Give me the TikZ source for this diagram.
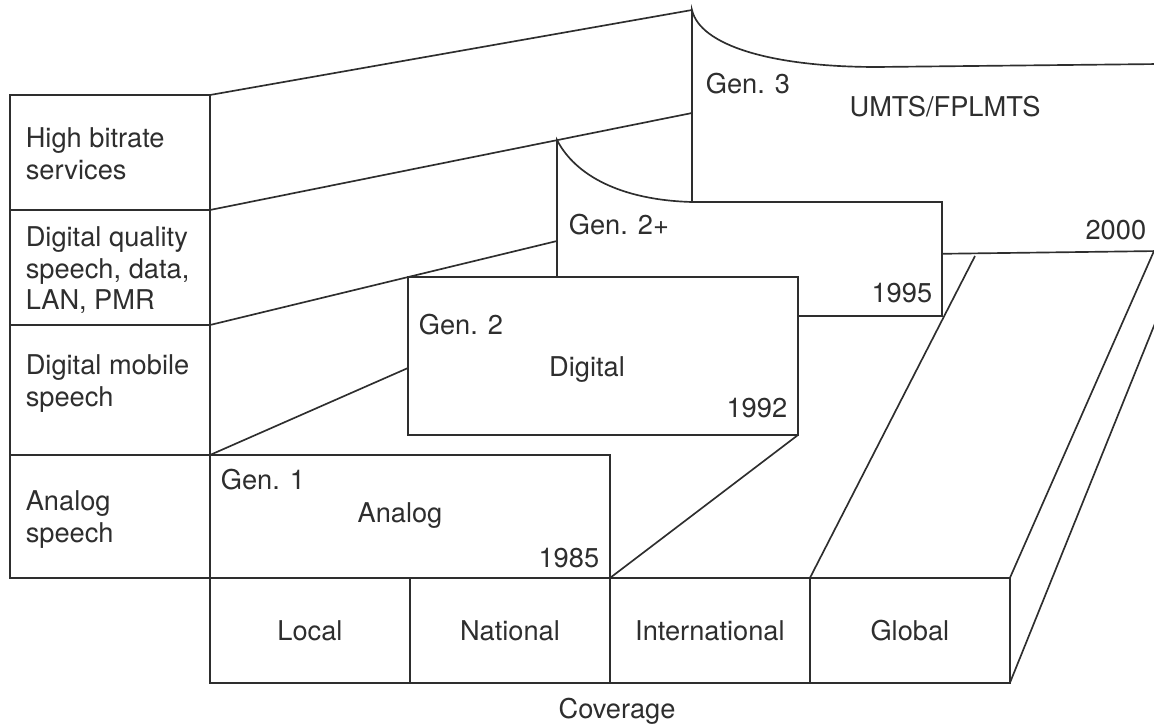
\documentclass[tikz,border=0pt]{standalone}
\usepackage{fontspec}
\setmainfont{TeX Gyre Heros}
\usetikzlibrary{positioning}

\begin{document}
\begin{tikzpicture}[x=0.02cm, y=-0.02cm, line width=0.95pt, color=black!82,
    every node/.style={font=\fontsize{15.5}{18}\selectfont},
    rowtext/.style={anchor=north west, inner sep=0pt, align=left},
    gentext/.style={anchor=north west, inner sep=0pt},
    yeartext/.style={anchor=base east, inner sep=0pt},
    systext/.style={anchor=base, inner sep=0pt},
    covbox/.style={draw, minimum width=4cm, minimum height=2.1cm, inner sep=0pt, outer sep=0pt},
    genbox/.style={draw, fill=white}]
    \useasboundingbox (0,0) rectangle (1154,726);

    % corners of the boxes
    \coordinate (colTL) at (10,95);
    \coordinate (colTR) at (210,95);
    \coordinate (hbBot) at (210,210);
    \coordinate (dqBot) at (210,325);
    \coordinate (dmBot) at (210,455);
    \coordinate (colBR) at (210,578);
    \coordinate (g3Top) at (692,10);
    \coordinate (g3Mid) at (692,113);
    \coordinate (g3Low) at (692,257);
    \coordinate (g3BR) at (1154,251);
    \coordinate (g2pTL) at (557,140);
    \coordinate (g2pL) at (557,241);
    \coordinate (g2pBR) at (942,316);
    \coordinate (dgTL) at (408,277);
    \coordinate (dgL) at (408,368);
    \coordinate (dgBR) at (798,435);
    \coordinate (floorTop) at (975,256);
    \coordinate (floorEnd) at (1160,311);

    % coverage
    \node[covbox] (local) at (310,630.5) {Local};
    \node[covbox, right=0pt of local] (national) {National};
    \node[covbox, right=0pt of national] (internat) {International};
    \node[covbox, right=0pt of internat] (global) {Global};
    \node[systext] (coverage) at (617,718) {Coverage};

    % generations, back to front
    \draw[genbox] (g3Low) -- (g3Top) .. controls (700,45) and (770,67) .. (877,67)
        -- (1160,64) -- (1160,251) -- cycle;
    \draw[genbox] (g2pTL) .. controls (575,175) and (620,200) .. (692,202)
        -- (942,202) -- (g2pBR) -- (557,316) -- cycle;
    \draw[genbox] (dgTL) rectangle (dgBR);
    \draw[genbox] (dmBot) rectangle (national.north east);

    % service column
    \draw (colTL) rectangle (colBR);
    \foreach \c in {hbBot,dqBot,dmBot}
        \draw (\c -| colTL) -- (\c);

    % slanted edges
    \draw (colTR) -- (g3Top);
    \draw (hbBot) -- (g3Mid);
    \draw (dqBot) -- (g2pL);
    \draw (dmBot) -- (dgL);
    \draw (national.north east) -- (dgBR);
    \draw (internat.north east) -- (floorTop);
    \draw (global.north east) -- (g3BR);
    \draw (global.south east) -- (floorEnd);

    % labels
    \node[rowtext] (hbr) at (25,127) {High bitrate\\services};
    \node[rowtext] (dqs) at (25,226) {Digital quality\\speech, data,\\LAN, PMR};
    \node[rowtext] (dms) at (25,354) {Digital mobile\\speech};
    \node[rowtext] (ans) at (25,490) {Analog\\speech};

    \node[gentext] (gen1) at (220,468) {Gen. 1};
    \node[gentext] (gen2) at (418,313) {Gen. 2};
    \node[gentext] (gen2p) at (568,213) {Gen. 2+};
    \node[gentext] (gen3) at (705,72) {Gen. 3};

    \node[systext] (analog) at (400,522) {Analog};
    \node[systext] (digital) at (587,377) {Digital};
    \node[systext] (umts) at (945,117) {UMTS/FPLMTS};

    \node[yeartext] (y1985) at (600,567) {1985};
    \node[yeartext] (y1992) at (788,418) {1992};
    \node[yeartext] (y1995) at (933,303) {1995};
    \node[yeartext] (y2000) at (1147,240) {2000};
\end{tikzpicture}
\end{document}
